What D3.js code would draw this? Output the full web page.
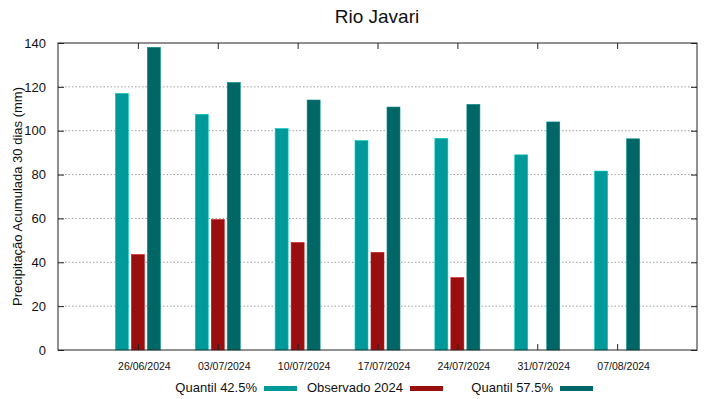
<!DOCTYPE html>
<html><head><meta charset="utf-8">
<script src="https://cdn.jsdelivr.net/npm/d3@7"></script>
<style>body{margin:0;background:#fff}svg{display:block;font-family:"Liberation Sans",Arial,sans-serif}</style>
</head><body>
<script>
const categories = ["26/06/2024","03/07/2024","10/07/2024","17/07/2024","24/07/2024","31/07/2024","07/08/2024"];
const q425 = [117, 107.5, 101, 95.5, 96.5, 89, 81.6];
const observado = [43.5, 59.5, 49, 44.5, 33, null, null];
const q575 = [138, 122, 114, 110.8, 112, 104, 96.3];
const yTicks = [0,20,40,60,80,100,120,140];
const seriesNames = ["Quantil 42.5%","Observado 2024","Quantil 57.5%"];
const colors = ["#009999","#990e0e","#006666"];

const W=719,H=399, L=58, R=697, T=43, B=350;
const svg=d3.select("body").append("svg").attr("width",W).attr("height",H);
const x=d3.scaleLinear().domain([0,categories.length+1]).range([L,R]);
const y=d3.scaleLinear().domain([0,140]).range([B,T]);

// grid
svg.append("g").selectAll("line").data(yTicks.slice(1,-1)).join("line")
  .attr("x1",L).attr("x2",R).attr("y1",d=>y(d)).attr("y2",d=>y(d))
  .attr("stroke","#a0a0a0").attr("stroke-width",1).attr("stroke-dasharray","1.5,2");

const series=[q425,observado,q575];
const bw=13, off=16;
series.forEach((s,si)=>{
  svg.append("g").selectAll("rect").data(s.map((v,i)=>({v,i})).filter(d=>d.v!=null)).join("rect")
    .attr("x",d=>x(d.i+1)+(si-1)*off-bw/2).attr("width",bw)
    .attr("y",d=>y(d.v)).attr("height",d=>y(0)-y(d.v))
    .attr("fill",colors[si]).attr("stroke",d3.color(colors[si]).brighter(0.8)).attr("stroke-width",0.6);
});

// axes
svg.append("rect").attr("x",L).attr("y",T).attr("width",R-L).attr("height",B-T).attr("fill","none").attr("stroke","#222").attr("stroke-width",1);
const yl=svg.append("g").attr("transform",`translate(${L},0)`).call(d3.axisLeft(y).tickValues(yTicks).tickSize(-6).tickPadding(12).tickFormat(d3.format("d")));
yl.select(".domain").remove();
yl.selectAll("line").attr("stroke","#222");
yl.selectAll("text").attr("font-size",13).attr("fill","#111").attr("font-family","Liberation Sans, Arial, sans-serif");
const yr=svg.append("g").attr("transform",`translate(${R},0)`).call(d3.axisRight(y).tickValues(yTicks).tickSize(-6).tickFormat(""));
yr.select(".domain").remove(); yr.selectAll("line").attr("stroke","#222");
const xt=svg.append("g").attr("transform",`translate(0,${T})`).call(d3.axisTop(x).tickValues(d3.range(1,categories.length+1)).tickSize(-6).tickFormat(""));
xt.select(".domain").remove(); xt.selectAll("line").attr("stroke","#222");
const xb=svg.append("g").attr("transform",`translate(0,${B})`).call(d3.axisBottom(x).tickValues(d3.range(1,categories.length+1)).tickSize(-6).tickPadding(13).tickFormat(d=>categories[d-1]));
xb.select(".domain").remove(); xb.selectAll("line").attr("stroke","#222");
xb.selectAll("text").attr("font-size",10.5).attr("fill","#111").attr("dx",6).attr("font-family","Liberation Sans, Arial, sans-serif");

// title
svg.append("text").attr("x",377).attr("y",23).attr("text-anchor","middle").attr("font-size",19).attr("fill","#111").text("Rio Javari");
svg.append("text").attr("transform",`translate(22,${(T+B)/2}) rotate(-90)`).attr("text-anchor","middle").attr("font-size",13).attr("fill","#111").text("Precipitação Acumulada 30 dias (mm)");

// legend
const legX=[257,403,553];
seriesNames.forEach((n,i)=>{
  svg.append("text").attr("x",legX[i]).attr("y",392).attr("text-anchor","end").attr("font-size",13).attr("fill","#111").text(n);
  svg.append("rect").attr("x",legX[i]+7).attr("y",386).attr("width",33).attr("height",5).attr("fill",colors[i]);
});
</script>
</body></html>
